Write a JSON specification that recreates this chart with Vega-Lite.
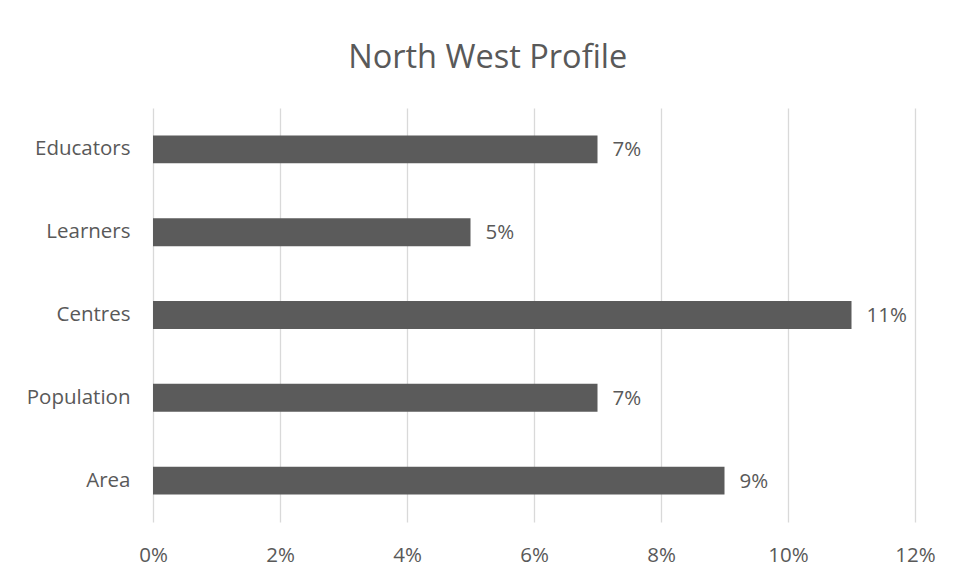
{
  "$schema": "https://vega.github.io/schema/vega-lite/v6.json",
  "width": 762,
  "height": 414,
  "autosize": {"type": "none"},
  "padding": {"left": 153, "top": 108, "right": 41, "bottom": 59},
  "background": "white",
  "title": {
    "text": "North West Profile",
    "font": "Open Sans",
    "fontSize": 32.5,
    "fontWeight": "normal",
    "color": "#595959",
    "anchor": "middle",
    "frame": "bounds",
    "offset": 34,
    "dx": 7
  },
  "config": {
    "view": {"stroke": null},
    "font": "Open Sans"
  },
  "data": {
    "values": [
      {"category": "Educators", "value": 0.07},
      {"category": "Learners", "value": 0.05},
      {"category": "Centres", "value": 0.11},
      {"category": "Population", "value": 0.07},
      {"category": "Area", "value": 0.09}
    ]
  },
  "encoding": {
    "y": {
      "field": "category",
      "type": "nominal",
      "sort": null,
      "scale": {"paddingInner": 0.663, "paddingOuter": 0.3315},
      "axis": {
        "title": null,
        "domain": false,
        "ticks": false,
        "grid": false,
        "labelFont": "Open Sans",
        "labelFontSize": 20.5,
        "labelColor": "#595959",
        "labelPadding": 23
      }
    },
    "x": {
      "field": "value",
      "type": "quantitative",
      "scale": {"domain": [0, 0.12], "nice": false},
      "axis": {
        "title": null,
        "format": ".0%",
        "values": [0, 0.02, 0.04, 0.06, 0.08, 0.1, 0.12],
        "domain": false,
        "ticks": false,
        "grid": true,
        "gridColor": "#d9d9d9",
        "gridWidth": 1.3,
        "labelFlush": false,
        "labelFont": "Open Sans",
        "labelFontSize": 20.5,
        "labelColor": "#595959",
        "labelPadding": 23
      }
    }
  },
  "layer": [
    {"mark": {"type": "bar", "color": "#5b5b5b"}},
    {
      "mark": {
        "type": "text",
        "align": "left",
        "baseline": "middle",
        "dx": 15,
        "dy": 1,
        "font": "Open Sans",
        "fontSize": 20.5,
        "color": "#595959"
      },
      "encoding": {
        "text": {"field": "value", "type": "quantitative", "format": ".0%"}
      }
    }
  ]
}
